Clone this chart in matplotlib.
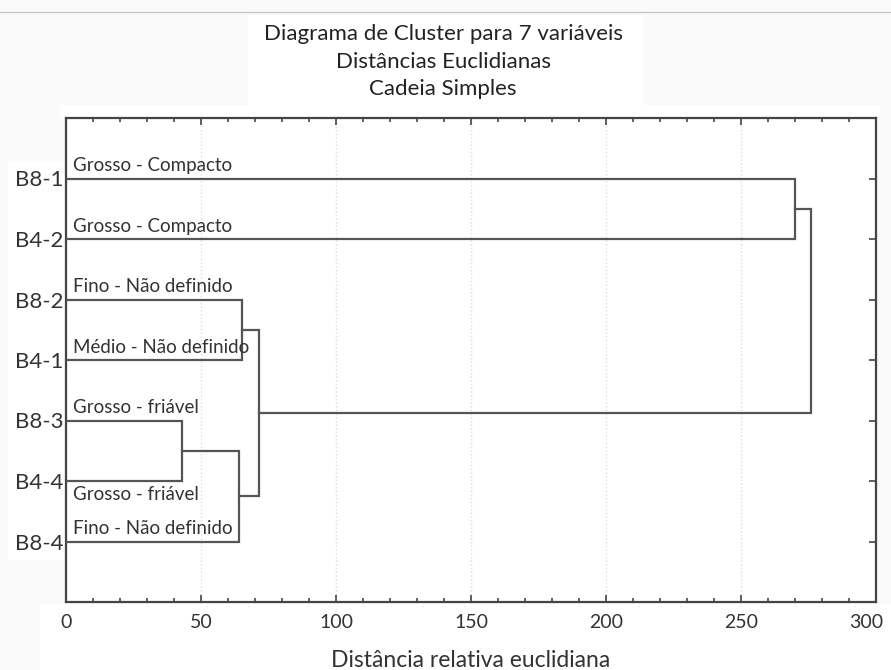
import matplotlib
matplotlib.use("Agg")
import matplotlib.pyplot as plt
import matplotlib.transforms as mtransforms
from matplotlib.ticker import MultipleLocator
from matplotlib.patches import Rectangle

plt.rcParams['font.family'] = ['Lato', 'DejaVu Sans']

# ---- data ----
leaves = ["B8-1", "B4-2", "B8-2", "B4-1", "B8-3", "B4-4", "B8-4"]
descriptions = ["Grosso - Compacto", "Grosso - Compacto", "Fino - Não definido",
                "Médio - Não definido", "Grosso - friável", "Grosso - friável",
                "Fino - Não definido"]
# linkage: (cluster a, cluster b, distance); new clusters numbered 7, 8, ...
merge_a = [4, 7, 2, 9, 0, 10]
merge_b = [5, 6, 3, 8, 1, 11]
merge_dist = [43.0, 64.0, 65.0, 71.5, 270.0, 276.0]
x_ticks = [0, 50, 100, 150, 200, 250, 300]
title_lines = ["Diagrama de Cluster para 7 variáveis", "Distâncias Euclidianas", "Cadeia Simples"]

W, H = 891, 670
bg = "#fafafa"
fig = plt.figure(figsize=(W / 100, H / 100), dpi=100, facecolor=bg)

def px_rect(x0, y0, x1, y1, color="white"):
    fig.add_artist(Rectangle((x0 / W, 1 - y1 / H), (x1 - x0) / W, (y1 - y0) / H,
                             transform=fig.transFigure, facecolor=color,
                             edgecolor="none", zorder=-10))

px_rect(248, 15, 643, 105)
px_rect(8, 162, 66, 560)
px_rect(40, 604, 891, 670)
px_rect(60, 105, 880, 118)

ax = fig.add_axes([66 / W, 1 - 602 / H, (876 - 66) / W, (602 - 118) / H])
ax.set_facecolor("white")

line_col = "#555555"
pos = {i: (0.0, float(i + 1)) for i in range(len(leaves))}
for k, (a, b, d) in enumerate(zip(merge_a, merge_b, merge_dist)):
    xa, ya = pos[a]
    xb, yb = pos[b]
    ax.plot([xa, d, d, xb], [ya, ya, yb, yb], color=line_col, lw=1.6,
            solid_joinstyle="miter", zorder=3)
    pos[len(leaves) + k] = (d, (ya + yb) / 2)

# descriptive labels
below = {5}
for i, txt in enumerate(descriptions):
    if i in below:
        ax.text(2.5, i + 1 + 0.09, txt, ha="left", va="top", fontsize=13.5, color="#333333")
    else:
        ax.text(2.5, i + 1 - 0.12, txt, ha="left", va="baseline", fontsize=13.5, color="#333333")

ax.set_xlim(0, 300)
ax.set_ylim(8, 0)
ax.set_xticks(x_ticks)
ax.xaxis.set_minor_locator(MultipleLocator(10))
ax.set_yticks(range(1, len(leaves) + 1))
ax.set_yticklabels(leaves)
ax.tick_params(axis="both", which="both", direction="in", top=True, right=True,
               color="#444444", width=1.2, labelcolor="#333333")
ax.tick_params(axis="both", which="major", length=5)
ax.tick_params(axis="x", which="minor", length=3)
ax.tick_params(axis="x", labelsize=14, pad=9)
ax.tick_params(axis="y", labelsize=16, pad=2)
for s in ax.spines.values():
    s.set_color("#444444")
    s.set_linewidth(1.6)
ax.grid(axis="x", which="major", color="#dddddd", linestyle=":", lw=1.0, zorder=0)

# last x tick label nudged left, as in the reference
lbl = ax.get_xticklabels()[-1]
lbl.set_transform(lbl.get_transform() + mtransforms.ScaledTranslation(-10 / 100, 0, fig.dpi_scale_trans))

ax.set_xlabel("Distância relativa euclidiana", fontsize=16.5, color="#333333", labelpad=13)

# top separator line
fig.add_artist(plt.Line2D([0, 1], [1 - 12 / H, 1 - 12 / H], color="#c8c8c8", lw=1))

for j, t in enumerate(title_lines):
    fig.text(443 / W, 1 - (40 + 27.5 * j) / H, t, ha="center", va="baseline",
             fontsize=16, color="#222222")

fig.savefig("out.png", dpi=100, facecolor=fig.get_facecolor())
